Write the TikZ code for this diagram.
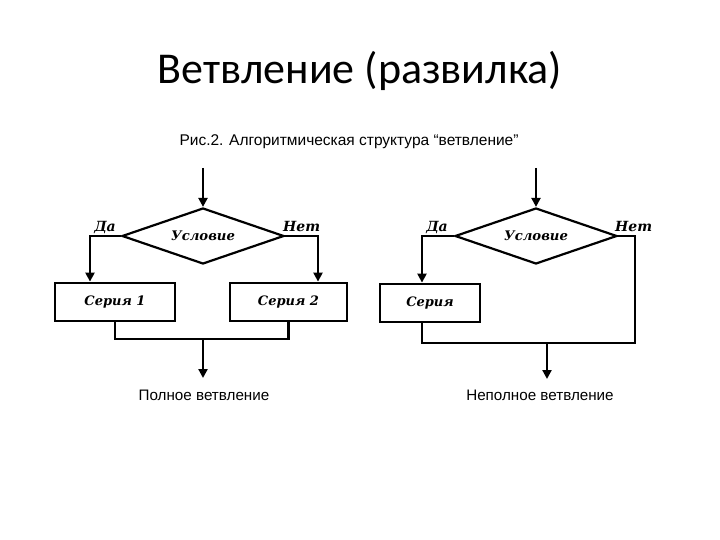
\documentclass[tikz,border=0pt]{standalone}
\usepackage{fontspec}
\setmainfont{Carlito}
\newfontfamily\arialf{Liberation Sans}
\newfontfamily\serbi{DejaVu Serif}
\usetikzlibrary{shapes.geometric,arrows.meta}
\begin{document}
\begin{tikzpicture}[x=1pt,y=-1pt,
  ln/.style={line width=2.2pt,line join=miter},
  arr/.style={ln,-{Triangle[length=9pt,width=9pt]}},
  cond/.style={diamond,draw,line width=2.2pt,inner sep=0pt,shape aspect=2.9,minimum width=162pt,minimum height=56pt,font=\serbi\bfseries\itshape\fontsize{13.2}{14}\selectfont},
  sbox/.style={rectangle,draw,line width=2.8pt,inner sep=0pt,minimum height=38pt,font=\serbi\bfseries\itshape\fontsize{13}{14}\selectfont},
  lab/.style={font=\serbi\bfseries\itshape\fontsize{14}{15}\selectfont,inner sep=0pt},
  captext/.style={font=\arialf\fontsize{15.2}{17}\selectfont,inner sep=0pt}]
\useasboundingbox (0,0) rectangle (720,540);
\fill[white] (0,0) rectangle (720,540);
\node[inner sep=0pt,font=\fontsize{44}{50}\selectfont] (title) at (360,71) {Ветвление (развилка)};
\node[captext,font=\arialf\fontsize{15.5}{17}\selectfont] (sub) at (349,142) {Рис.2. Алгоритмическая структура “ветвление”};
% left
\coordinate (t1) at (203,168);
\node[cond] (d1) at (203,236) {Условие};
\node[sbox,minimum width=120pt] (b1) at (115,302) {Серия 1};
\node[sbox,minimum width=117pt] (b2) at (288.5,302) {Серия 2};
\coordinate (l1) at (90,236);
\coordinate (r1) at (318,236);
\coordinate (m1) at (203,339);
\node[captext] (c1) at (204,395) {Полное ветвление};
\draw[arr] (t1) -- (d1.north);
\draw[arr] (d1.west) -- (l1) -- (l1 |- b1.north);
\draw[arr] (d1.east) -- (r1) -- (r1 |- b2.north);
\draw[ln] (b1.south) |- (m1) -| (b2.south);
\draw[arr] (m1) -- (203,378);
\node[lab,anchor=base east] (da1) at (116,231) {Да};
\node[lab,anchor=base west] (net1) at (283,231) {Нет};
% right
\coordinate (t2) at (536,168);
\node[cond] (d2) at (536,236) {Условие};
\node[sbox,minimum width=100pt] (b3) at (430,303) {Серия};
\coordinate (l2) at (422,236);
\coordinate (r2) at (635,236);
\coordinate (m2) at (547,343);
\coordinate (e2) at (547,379);
\node[captext] (c2) at (540,395) {Неполное ветвление};
\draw[arr] (t2) -- (d2.north);
\draw[arr] (d2.west) -- (l2) -- (l2 |- b3.north);
\draw[ln] (l2 |- b3.south) |- (m2) -| (r2) -- (d2.east);
\draw[arr] (m2) -- (e2);
\node[lab,anchor=base east] (da2) at (448,231) {Да};
\node[lab,anchor=base west] (net2) at (615,231) {Нет};
\end{tikzpicture}
\end{document}
